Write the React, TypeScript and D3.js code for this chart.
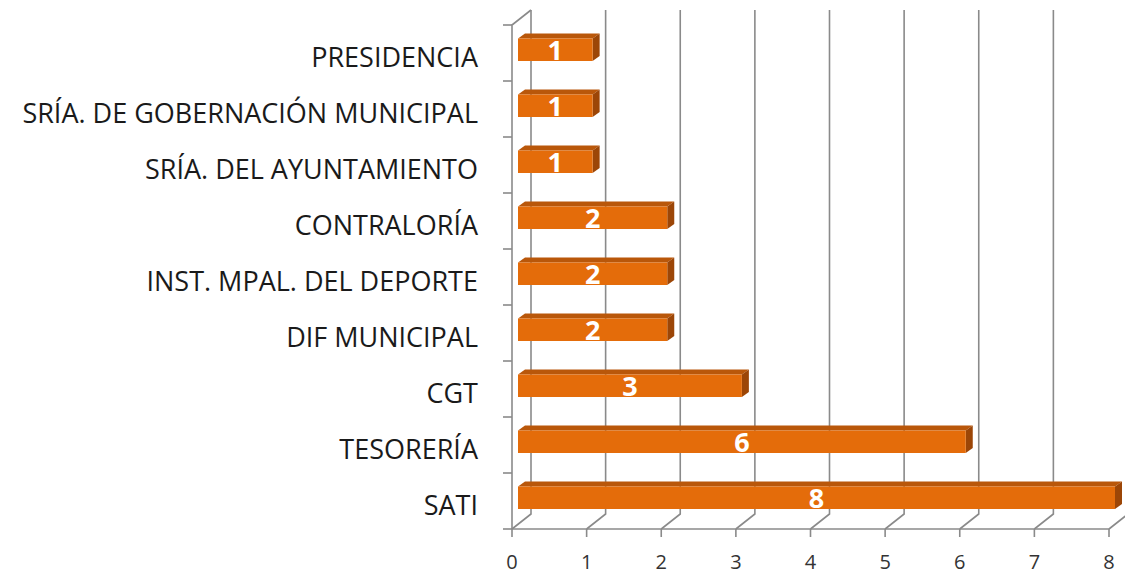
import React from 'react'
import * as d3 from 'd3'

// categories top to bottom, with their counts
const categories = [
  'PRESIDENCIA',
  'SRÍA. DE GOBERNACIÓN MUNICIPAL',
  'SRÍA. DEL AYUNTAMIENTO',
  'CONTRALORÍA',
  'INST. MPAL. DEL DEPORTE',
  'DIF MUNICIPAL',
  'CGT',
  'TESORERÍA',
  'SATI',
]
const values = [1, 1, 1, 2, 2, 2, 3, 6, 8]
const xTicks = [0, 1, 2, 3, 4, 5, 6, 7, 8]

function App() {
  const width = 1125
  const height = 575

  // front edge of the floor, then the back wall is shifted by depth
  const xScale = d3.scaleLinear().domain([0, 8]).range([512, 1109])
  const yScale = d3.scaleBand().domain(categories).range([25, 529]).padding(0)
  const floorY = 529
  const depth = { dx: 19, dy: -15 }
  const bar = { dx: 6, top: 13.5, bottom: 36, ddx: 7, ddy: -5 }

  const grid = '#8a8a8a'
  const font = '"Open Sans", sans-serif'

  return (
    <svg width={width} height={height} style={{ position: 'absolute', left: 0, top: 0 }}>
      <rect width={width} height={height} fill="#fff" />

      {/* back wall gridlines and floor diagonals */}
      {xTicks.map(t => (
        <g key={t}>
          <path
            d={`M ${xScale(t) + depth.dx} ${yScale.range()[0] + depth.dy} V ${floorY + depth.dy} L ${xScale(t)} ${floorY}`}
            fill="none" stroke={grid} strokeWidth="1.6" />
          <path d={`M ${xScale(t)} ${floorY} V ${floorY + 8}`} stroke={grid} strokeWidth="1.6" />
          <text x={xScale(t)} y={floorY + 40} textAnchor="middle" fontFamily={font} fontSize="20" fill="#333">{t}</text>
        </g>
      ))}

      {/* left wall and floor front edge */}
      <path
        d={`M ${xScale(0)} ${floorY} V ${yScale.range()[0]} L ${xScale(0) + depth.dx} ${yScale.range()[0] + depth.dy}`}
        fill="none" stroke={grid} strokeWidth="1.6" />
      <path d={`M ${xScale(0)} ${floorY} H ${xScale(8)}`} stroke={grid} strokeWidth="1.6" />
      {[...categories.map(c => yScale(c)), floorY].map((y, i) => (
        <path key={i} d={`M ${xScale(0) - 9} ${y} H ${xScale(0)}`} stroke={grid} strokeWidth="1.6" />
      ))}

      {/* bars */}
      {categories.map((c, i) => {
        const b = yScale(c)
        const x0 = xScale(0) + bar.dx
        const x1 = xScale(values[i]) + bar.dx
        const y0 = b + bar.top
        const y1 = b + bar.bottom
        return (
          <g key={c}>
            <path d={`M ${x0} ${y0} L ${x0 + bar.ddx} ${y0 + bar.ddy} H ${x1 + bar.ddx} L ${x1} ${y0} Z`} fill="#b9570a" />
            <path d={`M ${x1} ${y0} L ${x1 + bar.ddx} ${y0 + bar.ddy} V ${y1 + bar.ddy} L ${x1} ${y1} Z`} fill="#9c4607" />
            <rect x={x0} y={y0} width={x1 - x0} height={y1 - y0} fill="#e46c0a" />
            <text x={(x0 + x1) / 2} y={(y0 + y1) / 2 + 10} textAnchor="middle" fontFamily={font}
              fontWeight="bold" fontSize="27" fill="#fff">{values[i]}</text>
            <text x={478} y={b + yScale.bandwidth() / 2 + 14} textAnchor="end" fontFamily={font}
              fontSize="27" fill="#1a1a1a">{c}</text>
          </g>
        )
      })}
    </svg>
  )
}

export default App
